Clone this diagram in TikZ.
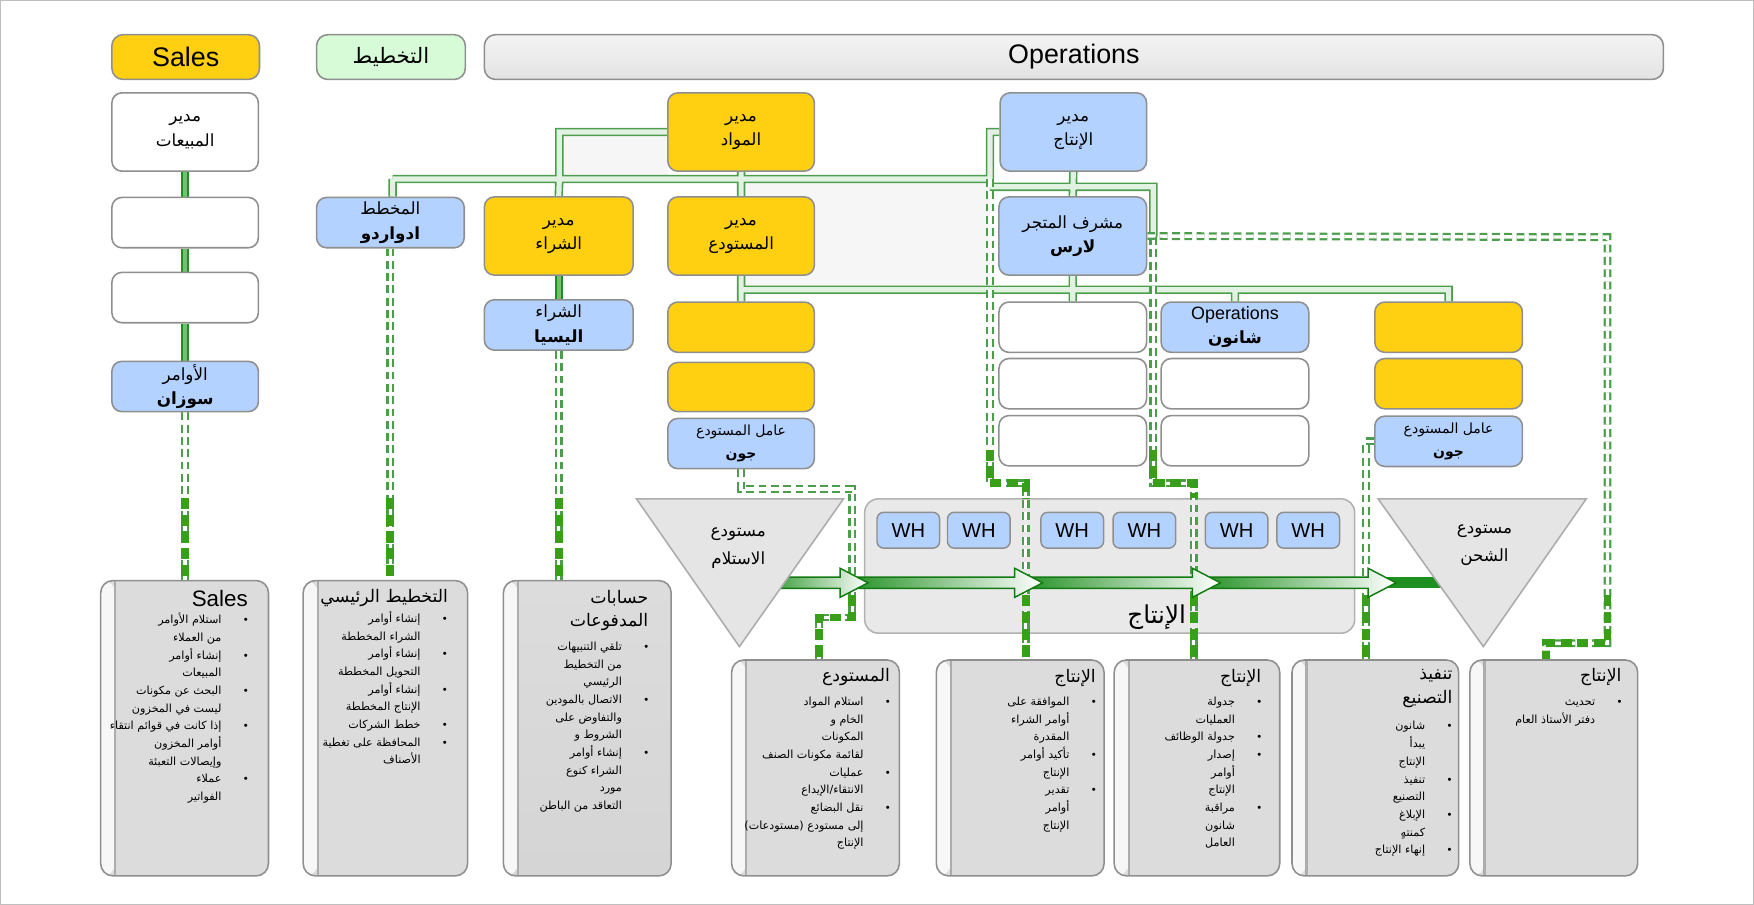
\documentclass[tikz,border=0pt]{standalone}
\usepackage{fontspec}
\setmainfont{Liberation Sans}
\newfontfamily\arabicfont[Script=Arabic]{DejaVu Sans}
\TeXXeTstate=1

\definecolor{salesyellow}{HTML}{FFCF12}
\definecolor{roleblue}{HTML}{B4D2FF}
\definecolor{plangreen}{HTML}{D6FBD6}
\definecolor{boxline}{HTML}{8F8F8F}
\definecolor{bookgray}{HTML}{DCDCDC}
\definecolor{tubegreen}{HTML}{4C9E4C}
\definecolor{tubefill}{HTML}{E2F2E2}
\definecolor{dashgreen}{HTML}{38A018}
\definecolor{flowgreen}{HTML}{1F8F1F}
\definecolor{flowdark}{HTML}{127A12}

\pgfdeclarelayer{back}
\pgfdeclarelayer{mid}
\pgfsetlayers{back,mid,main}

\newcommand{\artx}[1]{{\arabicfont\beginR#1\endR}}
\newcommand{\orgtubes}{(matmgr.west) -| (jpur) (barL) -- (barR) (barL) -- (barL |- planner.north)
  (jpur) -- (purchmgr.north) (matmgr.south) -- (whmgr.north) (prodmgr.west) -| (barR)
  (bar2L) -- (bar2R) -- (jlars) (prodmgr.south) -- (shopsup.north) (whmgr.south) -- (whstep1.north)
  (jwh) -| (shipstep1.north) (shopsup.south) -- (shopstep1.north) (jops) -- (opsshan.north)}

\tikzset{
  hdr/.style={draw=boxline, line width=1.4pt, rounded corners=10pt, minimum height=40pt, font=\fontsize{24}{24}\selectfont},
  role/.style={draw=boxline, line width=1.4pt, fill=white, rounded corners=9pt, minimum width=131pt, minimum height=45pt, align=center, inner sep=2pt, font=\fontsize{15}{22}\selectfont},
  tall/.style={minimum height=70pt},
  worker/.style={font=\fontsize{12.5}{20}\selectfont},
  book/.style={draw=boxline, line width=1.4pt, fill=bookgray, rounded corners=11pt, minimum width=150pt,
    path picture={\fill[gray!6] (path picture bounding box.north west) rectangle ([xshift=13pt]path picture bounding box.south west);
      \draw[gray!65, line width=2pt] ([xshift=13pt]path picture bounding box.north west) -- ([xshift=13pt]path picture bounding box.south west);}},
  booktitle/.style={anchor=north east, inner sep=0pt, align=right, font=\fontsize{15.5}{21}\selectfont},
  booklist/.style={anchor=north east, inner sep=0pt, font=\fontsize{10}{15.8}\selectfont},
  orgbar/.style={line width=7.5pt, tubegreen},
  orgfill/.style={line width=4.6pt, tubefill},
  link/.style={draw=flowgreen, double=green!55!black!55!white, line width=2.2pt, double distance=3.2pt},
  feed/.style={draw=tubegreen, line width=2pt, double=white, double distance=3pt, dash pattern=on 7pt off 4pt},
  feedthick/.style={draw=dashgreen, line width=7pt, dash pattern=on 10pt off 5pt},
  wh/.style={draw=boxline, line width=1.3pt, fill=roleblue, rounded corners=6pt, minimum width=56pt, minimum height=32pt, font=\fontsize{18}{18}\selectfont},
  tri/.style={draw=gray!65, line width=1.4pt, fill=gray!20}
}

\begin{document}
\begin{tikzpicture}[x=1pt,y=-1pt]
\useasboundingbox (0,0) rectangle (1568,809);
\draw[gray!50, line width=0.8pt] (0.4,0.4) rectangle (1567.6,808.6);

% header row
\node[hdr, fill=salesyellow, minimum width=132pt] (hdrsales) at (166,51) {Sales};
\node[hdr, fill=plangreen, minimum width=133pt, font=\fontsize{19}{19}\selectfont] (hdrplan) at (349.5,51) {\artx{التخطيط}};
\node[hdr, top color=gray!9, bottom color=gray!22, minimum width=1054pt] (hdrops) at (960,51) {Operations};

% roles
\node[role, tall] (salesmgr) at (165.5,118) {\artx{مدير}\\\artx{المبيعات}};
\node[role] (salesstep1) at (165.5,199) {};
\node[role] (salesstep2) at (165.5,266) {};
\node[role, fill=roleblue] (orders) at (165.5,345.5) {\artx{الأوامر}\\\textbf{\artx{سوزان}}};
\node[role, fill=roleblue, minimum width=132pt] (planner) at (349,199) {\artx{المخطط}\\\textbf{\artx{ادواردو}}};
\node[role, tall, fill=salesyellow, minimum width=133pt] (purchmgr) at (499.5,211) {\artx{مدير}\\\artx{الشراء}};
\node[role, fill=roleblue, minimum width=133pt] (purch) at (499.5,290.5) {\artx{الشراء}\\\textbf{\artx{اليسيا}}};
\node[role, tall, fill=salesyellow] (matmgr) at (662.5,118) {\artx{مدير}\\\artx{المواد}};
\node[role, tall, fill=salesyellow] (whmgr) at (662.5,211) {\artx{مدير}\\\artx{المستودع}};
\node[role, fill=salesyellow] (whstep1) at (662.5,292.5) {};
\node[role, fill=salesyellow, minimum height=44pt] (whstep2) at (662.5,346) {};
\node[role, worker, fill=roleblue] (recvworker) at (662.5,396.5) {\artx{عامل المستودع}\\\textbf{\artx{جون}}};
\node[role, tall, fill=roleblue] (prodmgr) at (959.5,118) {\artx{مدير}\\\artx{الإنتاج}};
\node[role, tall, fill=roleblue, minimum width=132pt] (shopsup) at (959,211) {\artx{مشرف المتجر}\\\textbf{\artx{لارس}}};
\node[role, minimum width=132pt] (shopstep1) at (959,292.5) {};
\node[role, minimum width=132pt] (shopstep2) at (959,343) {};
\node[role, minimum width=132pt] (shopstep3) at (959,394) {};
\node[role, fill=roleblue, minimum width=132pt] (opsshan) at (1104,292.5) {{\fontsize{16}{19}\selectfont Operations}\\\textbf{\artx{شانون}}};
\node[role, minimum width=132pt] (opsstep2) at (1104,343) {};
\node[role, minimum width=132pt] (opsstep3) at (1104,394) {};
\node[role, fill=salesyellow, minimum width=132pt] (shipstep1) at (1295,292.5) {};
\node[role, fill=salesyellow, minimum width=132pt] (shipstep2) at (1295,343) {};
\node[role, worker, fill=roleblue, minimum width=132pt] (shipworker) at (1295,394.5) {\artx{عامل المستودع}\\\textbf{\artx{جون}}};

% warehouses and production floor
\draw[tri] (569,446) -- (754,446) -- (661,578) -- cycle;
\node[font=\fontsize{15}{25}\selectfont, align=center] (recvlabel) at (660,490) {\artx{مستودع}\\\artx{الاستلام}};
\draw[tri] (1232,446) -- (1418,446) -- (1326,578) -- cycle;
\node[font=\fontsize{15}{25}\selectfont, align=center] (shiplabel) at (1327,487) {\artx{مستودع}\\\artx{الشحن}};
\foreach \x [count=\i] in {812,875,958.5,1023,1105.5,1169.5}
  \node[wh] (wh\i) at (\x,474) {WH};
\node[font=\fontsize{22}{22}\selectfont] (prodlabel) at (1034,552) {\artx{الإنتاج}};

% task books
\node[book, minimum height=264pt] (salesbox) at (165,651) {};
\node[book, minimum height=264pt, minimum width=147pt] (planbox) at (344.5,651) {};
\node[book, minimum height=264pt, top color=bookgray, bottom color=gray!33] (apbox) at (525,651) {};
\node[book, minimum height=193pt] (whbox) at (729,686.5) {};
\node[book, minimum height=193pt] (p1box) at (912,686.5) {};
\node[book, minimum height=193pt, minimum width=148pt] (p2box) at (1070,686.5) {};
\node[book, minimum height=193pt, minimum width=149pt] (mfgbox) at (1229.5,686.5) {};
\node[book, minimum height=193pt] (p3box) at (1389,686.5) {};

\node[booktitle, font=\fontsize{20}{20}\selectfont] (salestitle) at ([xshift=-19pt,yshift=-9pt]salesbox.north east) {Sales};
\node[booklist] (salestxt) at ([xshift=-19pt,yshift=-28pt]salesbox.north east) {\begin{tabular}{@{}r@{\hspace{20pt}}c@{}}
\artx{استلام الأوامر} & • \\
\artx{من العملاء} & \\
\artx{إنشاء أوامر} & • \\
\artx{المبيعات} & \\
\artx{البحث عن مكونات} & • \\
\artx{ليست في المخزون} & \\
\artx{إذا كانت في قوائم انتقاء} & • \\
\artx{أوامر المخزون} & \\
\artx{وإيصالات التعبئة} & \\
\artx{عملاء} & • \\
\artx{الفواتير} & \\
\end{tabular}};

\node[booktitle] (plantitle) at ([xshift=-18pt,yshift=-8pt]planbox.north east) {\artx{التخطيط الرئيسي}};
\node[booklist] (plantxt) at ([xshift=-19pt,yshift=-27pt]planbox.north east) {\begin{tabular}{@{}r@{\hspace{20pt}}c@{}}
\artx{إنشاء أوامر} & • \\
\artx{الشراء المخططة} & \\
\artx{إنشاء أوامر} & • \\
\artx{التحويل المخططة} & \\
\artx{إنشاء أوامر} & • \\
\artx{الإنتاج المخططة} & \\
\artx{خطط الشركات} & • \\
\artx{المحافظة على تغطية} & • \\
\artx{الأصناف} & \\
\end{tabular}};

\node[booktitle] (aptitle) at ([xshift=-21pt,yshift=-9pt]apbox.north east) {\artx{حسابات}\\\artx{المدفوعات}};
\node[booklist] (aptxt) at ([xshift=-21pt,yshift=-52pt]apbox.north east) {\begin{tabular}{@{}r@{\hspace{20pt}}c@{}}
\artx{تلقي التنبيهات} & • \\
\artx{من التخطيط} & \\
\artx{الرئيسي} & \\
\artx{الاتصال بالمودين} & • \\
\artx{والتفاوض على} & \\
\artx{الشروط و} & \\
\artx{إنشاء أوامر} & • \\
\artx{الشراء كنوع} & \\
\artx{مورد} & \\
\artx{التعاقد من الباطن} & \\
\end{tabular}};

\node[booktitle] (whtitle) at ([xshift=-9pt,yshift=-8pt]whbox.north east) {\artx{المستودع}};
\node[booklist] (whtxt) at ([xshift=-9pt,yshift=-30pt]whbox.north east) {\begin{tabular}{@{}r@{\hspace{20pt}}c@{}}
\artx{استلام المواد} & • \\
\artx{الخام و} & \\
\artx{المكونات} & \\
\artx{لقائمة مكونات الصنف} & \\
\artx{عمليات} & • \\
\artx{الانتقاء/الإيداع} & \\
\artx{نقل البضائع} & • \\
\artx{إلى مستودع (مستودعات)} & \\
\artx{الإنتاج} & \\
\end{tabular}};

\node[booktitle] (p1title) at ([xshift=-8pt,yshift=-9pt]p1box.north east) {\artx{الإنتاج}};
\node[booklist] (p1txt) at ([xshift=-8pt,yshift=-30pt]p1box.north east) {\begin{tabular}{@{}r@{\hspace{20pt}}c@{}}
\artx{الموافقة على} & • \\
\artx{أوامر الشراء} & \\
\artx{المقدرة} & \\
\artx{تأكيد أوامر} & • \\
\artx{الإنتاج} & \\
\artx{تقدير} & • \\
\artx{أوامر} & \\
\artx{الإنتاج} & \\
\end{tabular}};

\node[booktitle] (p2title) at ([xshift=-17pt,yshift=-9pt]p2box.north east) {\artx{الإنتاج}};
\node[booklist] (p2txt) at ([xshift=-17pt,yshift=-30pt]p2box.north east) {\begin{tabular}{@{}r@{\hspace{20pt}}c@{}}
\artx{جدولة} & • \\
\artx{العمليات} & \\
\artx{جدولة الوظائف} & • \\
\artx{إصدار} & • \\
\artx{أوامر} & \\
\artx{الإنتاج} & \\
\artx{مراقبة} & • \\
\artx{شانون} & \\
\artx{العامل} & \\
\end{tabular}};

\node[booktitle] (mfgtitle) at ([xshift=-6pt,yshift=-9pt]mfgbox.north east) {\artx{تنفيذ}\\\artx{التصنيع}};
\node[booklist] (mfgtxt) at ([xshift=-7pt,yshift=-52pt]mfgbox.north east) {\begin{tabular}{@{}r@{\hspace{20pt}}c@{}}
\artx{شانون} & • \\
\artx{يبدأ} & \\
\artx{الإنتاج} & \\
\artx{تنفيذ} & • \\
\artx{التصنيع} & \\
\artx{الإبلاغ} & • \\
\artx{كمنتهٍ} & \\
\artx{إنهاء الإنتاج} & • \\
\end{tabular}};

\node[booktitle] (p3title) at ([xshift=-15pt,yshift=-8pt]p3box.north east) {\artx{الإنتاج}};
\node[booklist] (p3txt) at ([xshift=-15pt,yshift=-30pt]p3box.north east) {\begin{tabular}{@{}r@{\hspace{20pt}}c@{}}
\artx{تحديث} & • \\
\artx{دفتر الأستاذ العام} & \\
\end{tabular}};

% junctions
\coordinate (jpur) at (500,160);
\coordinate (barL) at (351,160);
\coordinate (barR) at (885,160);
\coordinate (bar2L) at (885,167);
\coordinate (bar2R) at (1031,167);
\coordinate (jlars) at (1031,212);
\coordinate (jwh) at (662.5,259);
\coordinate (jops) at (opsshan.north |- jwh);
\coordinate (jrecv1) at (762,437);
\coordinate (jrecv2) at (732,552);
\coordinate (jp1a) at (885,432);
\coordinate (jp1b) at (917,432);
\coordinate (jp2a) at (1031,432);
\coordinate (jp2b) at (1067,432);
\coordinate (jfar1) at (1437,212);
\coordinate (jfar2) at (1382,575);
\coordinate (jship) at (1221,0);
\coordinate (fadeA) at (0,445);
\coordinate (fadeB) at (0,532);
\coordinate (fadeC) at (0,402);

\begin{pgfonlayer}{back}
\fill[gray!7] (500,120) -- (597,120) -- (597,160) -- (885,160) -- (885,259) -- (662,259) -- (662,160) -- (500,160) -- cycle;
\node[draw=gray!60, line width=1.4pt, fill=gray!17, rounded corners=12pt, minimum width=438pt, minimum height=120pt] (prodarea) at (992,506) {};
\draw[orgbar] \orgtubes;
\draw[orgfill] \orgtubes;
\draw[link] (salesmgr) -- (salesstep1);
\draw[link] (salesstep1) -- (salesstep2);
\draw[link] (salesstep2) -- (orders);
\draw[link] (purchmgr) -- (purch);

\draw[feed] (orders.south) -- (orders.south |- salesbox.north);
\draw[feedthick] (orders.south |- fadeA) -- (orders.south |- salesbox.north);
\draw[feed] (planner.south) -- (planner.south |- planbox.north);
\draw[feedthick] (planner.south |- fadeA) -- (planner.south |- planbox.north);
\draw[feed] (purch.south) -- (purch.south |- apbox.north);
\draw[feedthick] (purch.south |- fadeA) -- (purch.south |- apbox.north);
\draw[feed] (recvworker.south) |- (jrecv1) |- (jrecv2) -- (jrecv2 |- whbox.north);
\draw[feedthick] (jrecv1 |- fadeB) |- (jrecv2) -- (jrecv2 |- whbox.north);
\draw[feed] (barR) -- (jp1a) -- (jp1b) -- (jp1b |- p1box.north);
\draw[feedthick] (jp1a |- fadeC) -- (jp1a) -- (jp1b) -- (jp1b |- prodarea.north);
\draw[feedthick] (jp1b |- fadeB) -- (jp1b |- p1box.north);
\draw[feed] (jlars) -- (jp2a) -- (jp2b) -- (jp2b |- p2box.north);
\draw[feedthick] (jp2a |- fadeC) -- (jp2a) -- (jp2b) -- (jp2b |- prodarea.north);
\draw[feedthick] (jp2b |- fadeB) -- (jp2b |- p2box.north);
\draw[feed] (shopsup.east) -- (jfar1) |- (jfar2) -- (jfar2 |- p3box.north);
\draw[feedthick] (jfar1 |- fadeB) |- (jfar2) -- (jfar2 |- p3box.north);
\draw[feed] (shipworker.west) -| (jship |- mfgbox.north);
\draw[feedthick] (jship |- fadeB) -- (jship |- mfgbox.north);
\end{pgfonlayer}

% material flow
\begin{pgfonlayer}{mid}
\fill[flowgreen] (1230,516) rectangle (1292,526);
\foreach \a/\b in {1091/1248, 932/1091, 776/932, 700/776}
  \shadedraw[left color=flowgreen, right color=white, draw=flowdark, line width=1.3pt]
    (\a-22,516) -- (\b-25,516) -- (\b-25,508) -- (\b,521) -- (\b-25,534) -- (\b-25,526) -- (\a-22,526) -- cycle;
\end{pgfonlayer}
\end{tikzpicture}
\end{document}
